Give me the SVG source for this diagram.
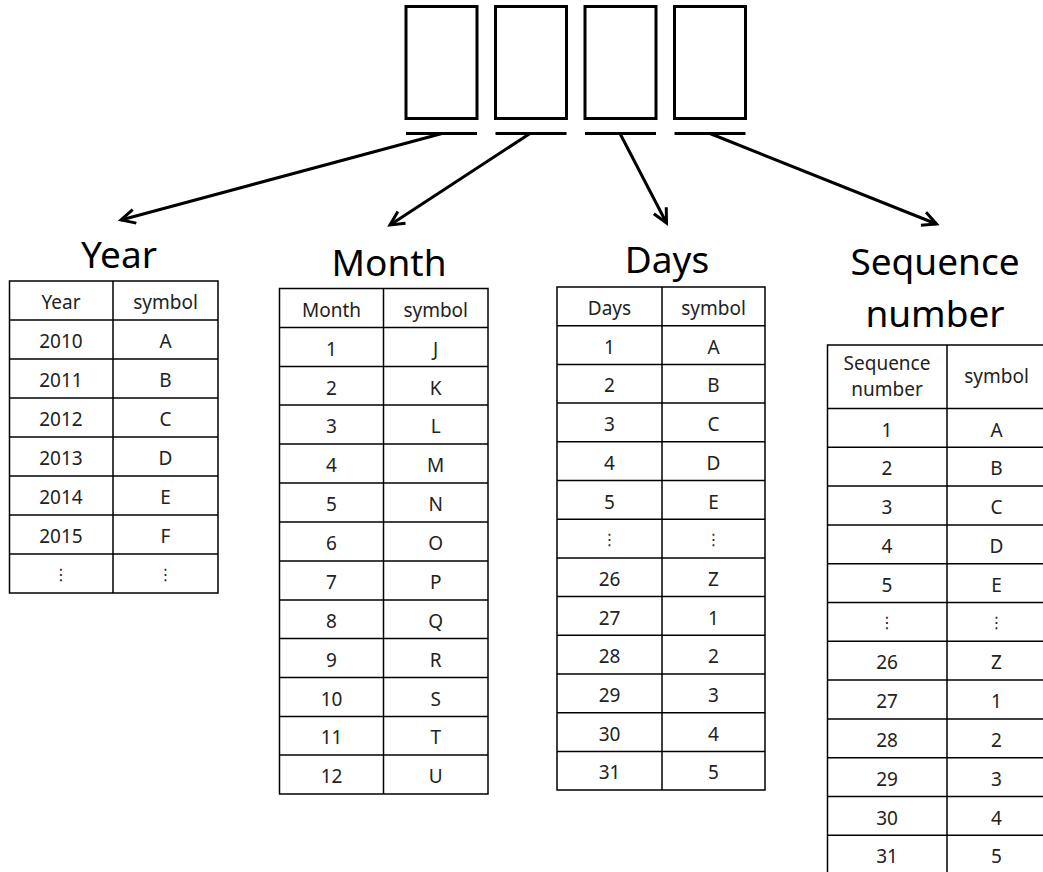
<svg xmlns="http://www.w3.org/2000/svg" width="1043" height="872" viewBox="0 0 1043 872">
<style>
.bx{fill:#fff;stroke:#000;stroke-width:3}
.ul{stroke:#000;stroke-width:3}
.ar{stroke:#000;stroke-width:3;fill:none}
.tb{fill:#fff;stroke:#000;stroke-width:1.5}
.ln{stroke:#000;stroke-width:1.5}
.ttl{font-family:"Noto Sans","Open Sans",sans-serif;font-size:37px;text-anchor:middle;fill:#000}
.c{font-family:"Noto Sans","Open Sans",sans-serif;font-size:19px;text-anchor:middle;fill:#222}
.d{font-family:"DejaVu Sans",sans-serif;font-size:16px;text-anchor:middle;fill:#222}
</style>
<defs>
<marker id="ah" markerUnits="userSpaceOnUse" markerWidth="20" markerHeight="20" viewBox="-16 -10 20 20" refX="0" refY="0" orient="auto">
<path d="M-14,-7 L0,0 L-14,7" fill="none" stroke="#000" stroke-width="3"/>
</marker>
</defs>
<rect width="1043" height="872" fill="#fff"/>
<g id="fields">
<rect class="bx" x="406" y="6.5" width="71" height="112"/>
<rect class="bx" x="495.5" y="6.5" width="71" height="112"/>
<rect class="bx" x="585" y="6.5" width="71" height="112"/>
<rect class="bx" x="674.5" y="6.5" width="71" height="112"/>
<line class="ul" x1="406" y1="133.5" x2="477" y2="133.5"/>
<line class="ul" x1="495.5" y1="133.5" x2="566.5" y2="133.5"/>
<line class="ul" x1="585" y1="133.5" x2="656" y2="133.5"/>
<line class="ul" x1="674.5" y1="133.5" x2="745.5" y2="133.5"/>
</g>
<g id="connectors">
<line class="ar" x1="442" y1="133.5" x2="121" y2="220" marker-end="url(#ah)"/>
<line class="ar" x1="530" y1="133.5" x2="390" y2="225" marker-end="url(#ah)"/>
<line class="ar" x1="620" y1="133.5" x2="666.5" y2="223" marker-end="url(#ah)"/>
<line class="ar" x1="710" y1="133.5" x2="936.5" y2="224" marker-end="url(#ah)"/>
</g>
<g id="year">
<text class="ttl" x="119" y="268">Year</text>
<rect class="tb" x="9.5" y="281" width="208.5" height="312"/>
<line class="ln" x1="113" y1="281" x2="113" y2="593"/>
<line class="ln" x1="9.5" y1="320" x2="218" y2="320"/>
<line class="ln" x1="9.5" y1="359" x2="218" y2="359"/>
<line class="ln" x1="9.5" y1="398" x2="218" y2="398"/>
<line class="ln" x1="9.5" y1="437" x2="218" y2="437"/>
<line class="ln" x1="9.5" y1="476" x2="218" y2="476"/>
<line class="ln" x1="9.5" y1="515" x2="218" y2="515"/>
<line class="ln" x1="9.5" y1="554" x2="218" y2="554"/>
<text class="c" x="61" y="309">Year</text><text class="c" x="165.5" y="309">symbol</text>
<text class="c" x="61" y="348">2010</text><text class="c" x="165.5" y="348">A</text>
<text class="c" x="61" y="387">2011</text><text class="c" x="165.5" y="387">B</text>
<text class="c" x="61" y="426">2012</text><text class="c" x="165.5" y="426">C</text>
<text class="c" x="61" y="465">2013</text><text class="c" x="165.5" y="465">D</text>
<text class="c" x="61" y="504">2014</text><text class="c" x="165.5" y="504">E</text>
<text class="c" x="61" y="543">2015</text><text class="c" x="165.5" y="543">F</text>
<text class="d" x="61" y="580">⋮</text><text class="d" x="165.5" y="580">⋮</text>
</g>
<g id="month">
<text class="ttl" x="389" y="276">Month</text>
<rect class="tb" x="279.5" y="288.5" width="208.5" height="505.5"/>
<line class="ln" x1="383.5" y1="288.5" x2="383.5" y2="794"/>
<line class="ln" x1="279.5" y1="327.5" x2="488" y2="327.5"/>
<line class="ln" x1="279.5" y1="366.5" x2="488" y2="366.5"/>
<line class="ln" x1="279.5" y1="405" x2="488" y2="405"/>
<line class="ln" x1="279.5" y1="444" x2="488" y2="444"/>
<line class="ln" x1="279.5" y1="483" x2="488" y2="483"/>
<line class="ln" x1="279.5" y1="522" x2="488" y2="522"/>
<line class="ln" x1="279.5" y1="561" x2="488" y2="561"/>
<line class="ln" x1="279.5" y1="600" x2="488" y2="600"/>
<line class="ln" x1="279.5" y1="638.5" x2="488" y2="638.5"/>
<line class="ln" x1="279.5" y1="677.5" x2="488" y2="677.5"/>
<line class="ln" x1="279.5" y1="716.5" x2="488" y2="716.5"/>
<line class="ln" x1="279.5" y1="755" x2="488" y2="755"/>
<text class="c" x="331.5" y="316.5">Month</text><text class="c" x="435.7" y="316.5">symbol</text>
<text class="c" x="331.5" y="355.5">1</text><text class="c" x="435.7" y="355.5">J</text>
<text class="c" x="331.5" y="394.5">2</text><text class="c" x="435.7" y="394.5">K</text>
<text class="c" x="331.5" y="433">3</text><text class="c" x="435.7" y="433">L</text>
<text class="c" x="331.5" y="472">4</text><text class="c" x="435.7" y="472">M</text>
<text class="c" x="331.5" y="511">5</text><text class="c" x="435.7" y="511">N</text>
<text class="c" x="331.5" y="550">6</text><text class="c" x="435.7" y="550">O</text>
<text class="c" x="331.5" y="589">7</text><text class="c" x="435.7" y="589">P</text>
<text class="c" x="331.5" y="627.5">8</text><text class="c" x="435.7" y="627.5">Q</text>
<text class="c" x="331.5" y="666.5">9</text><text class="c" x="435.7" y="666.5">R</text>
<text class="c" x="331.5" y="705.5">10</text><text class="c" x="435.7" y="705.5">S</text>
<text class="c" x="331.5" y="744">11</text><text class="c" x="435.7" y="744">T</text>
<text class="c" x="331.5" y="783">12</text><text class="c" x="435.7" y="783">U</text>
</g>
<g id="days">
<text class="ttl" x="667" y="273">Days</text>
<rect class="tb" x="557" y="287" width="208" height="503"/>
<line class="ln" x1="662" y1="287" x2="662" y2="790"/>
<line class="ln" x1="557" y1="325.7" x2="765" y2="325.7"/>
<line class="ln" x1="557" y1="364.4" x2="765" y2="364.4"/>
<line class="ln" x1="557" y1="403.1" x2="765" y2="403.1"/>
<line class="ln" x1="557" y1="441.8" x2="765" y2="441.8"/>
<line class="ln" x1="557" y1="480.5" x2="765" y2="480.5"/>
<line class="ln" x1="557" y1="519.2" x2="765" y2="519.2"/>
<line class="ln" x1="557" y1="557.9" x2="765" y2="557.9"/>
<line class="ln" x1="557" y1="596.6" x2="765" y2="596.6"/>
<line class="ln" x1="557" y1="635.3" x2="765" y2="635.3"/>
<line class="ln" x1="557" y1="674" x2="765" y2="674"/>
<line class="ln" x1="557" y1="712.7" x2="765" y2="712.7"/>
<line class="ln" x1="557" y1="751.4" x2="765" y2="751.4"/>
<text class="c" x="609.5" y="315">Days</text><text class="c" x="713.5" y="315">symbol</text>
<text class="c" x="609.5" y="353.7">1</text><text class="c" x="713.5" y="353.7">A</text>
<text class="c" x="609.5" y="392.4">2</text><text class="c" x="713.5" y="392.4">B</text>
<text class="c" x="609.5" y="431.1">3</text><text class="c" x="713.5" y="431.1">C</text>
<text class="c" x="609.5" y="469.8">4</text><text class="c" x="713.5" y="469.8">D</text>
<text class="c" x="609.5" y="508.5">5</text><text class="c" x="713.5" y="508.5">E</text>
<text class="d" x="609.5" y="545">⋮</text><text class="d" x="713.5" y="545">⋮</text>
<text class="c" x="609.5" y="585.9">26</text><text class="c" x="713.5" y="585.9">Z</text>
<text class="c" x="609.5" y="624.6">27</text><text class="c" x="713.5" y="624.6">1</text>
<text class="c" x="609.5" y="663.3">28</text><text class="c" x="713.5" y="663.3">2</text>
<text class="c" x="609.5" y="702">29</text><text class="c" x="713.5" y="702">3</text>
<text class="c" x="609.5" y="740.7">30</text><text class="c" x="713.5" y="740.7">4</text>
<text class="c" x="609.5" y="779.4">31</text><text class="c" x="713.5" y="779.4">5</text>
</g>
<g id="sequence">
<text class="ttl" x="935" y="275">Sequence</text>
<text class="ttl" x="935" y="326.5">number</text>
<rect class="tb" x="827.5" y="345" width="219" height="531"/>
<line class="ln" x1="947" y1="345" x2="947" y2="876"/>
<line class="ln" x1="827.5" y1="408.5" x2="1046" y2="408.5"/>
<line class="ln" x1="827.5" y1="447.3" x2="1046" y2="447.3"/>
<line class="ln" x1="827.5" y1="486.1" x2="1046" y2="486.1"/>
<line class="ln" x1="827.5" y1="524.9" x2="1046" y2="524.9"/>
<line class="ln" x1="827.5" y1="563.7" x2="1046" y2="563.7"/>
<line class="ln" x1="827.5" y1="602.5" x2="1046" y2="602.5"/>
<line class="ln" x1="827.5" y1="641.3" x2="1046" y2="641.3"/>
<line class="ln" x1="827.5" y1="680.1" x2="1046" y2="680.1"/>
<line class="ln" x1="827.5" y1="718.9" x2="1046" y2="718.9"/>
<line class="ln" x1="827.5" y1="757.7" x2="1046" y2="757.7"/>
<line class="ln" x1="827.5" y1="796.5" x2="1046" y2="796.5"/>
<line class="ln" x1="827.5" y1="835.3" x2="1046" y2="835.3"/>
<text class="c" x="887" y="370">Sequence</text>
<text class="c" x="887" y="396">number</text>
<text class="c" x="996.5" y="383">symbol</text>
<text class="c" x="887" y="436.5">1</text><text class="c" x="996.5" y="436.5">A</text>
<text class="c" x="887" y="475.3">2</text><text class="c" x="996.5" y="475.3">B</text>
<text class="c" x="887" y="514.1">3</text><text class="c" x="996.5" y="514.1">C</text>
<text class="c" x="887" y="552.9">4</text><text class="c" x="996.5" y="552.9">D</text>
<text class="c" x="887" y="591.7">5</text><text class="c" x="996.5" y="591.7">E</text>
<text class="d" x="887" y="628">⋮</text><text class="d" x="996.5" y="628">⋮</text>
<text class="c" x="887" y="669.3">26</text><text class="c" x="996.5" y="669.3">Z</text>
<text class="c" x="887" y="708.1">27</text><text class="c" x="996.5" y="708.1">1</text>
<text class="c" x="887" y="746.9">28</text><text class="c" x="996.5" y="746.9">2</text>
<text class="c" x="887" y="785.7">29</text><text class="c" x="996.5" y="785.7">3</text>
<text class="c" x="887" y="824.5">30</text><text class="c" x="996.5" y="824.5">4</text>
<text class="c" x="887" y="863.3">31</text><text class="c" x="996.5" y="863.3">5</text>
</g>
</svg>
